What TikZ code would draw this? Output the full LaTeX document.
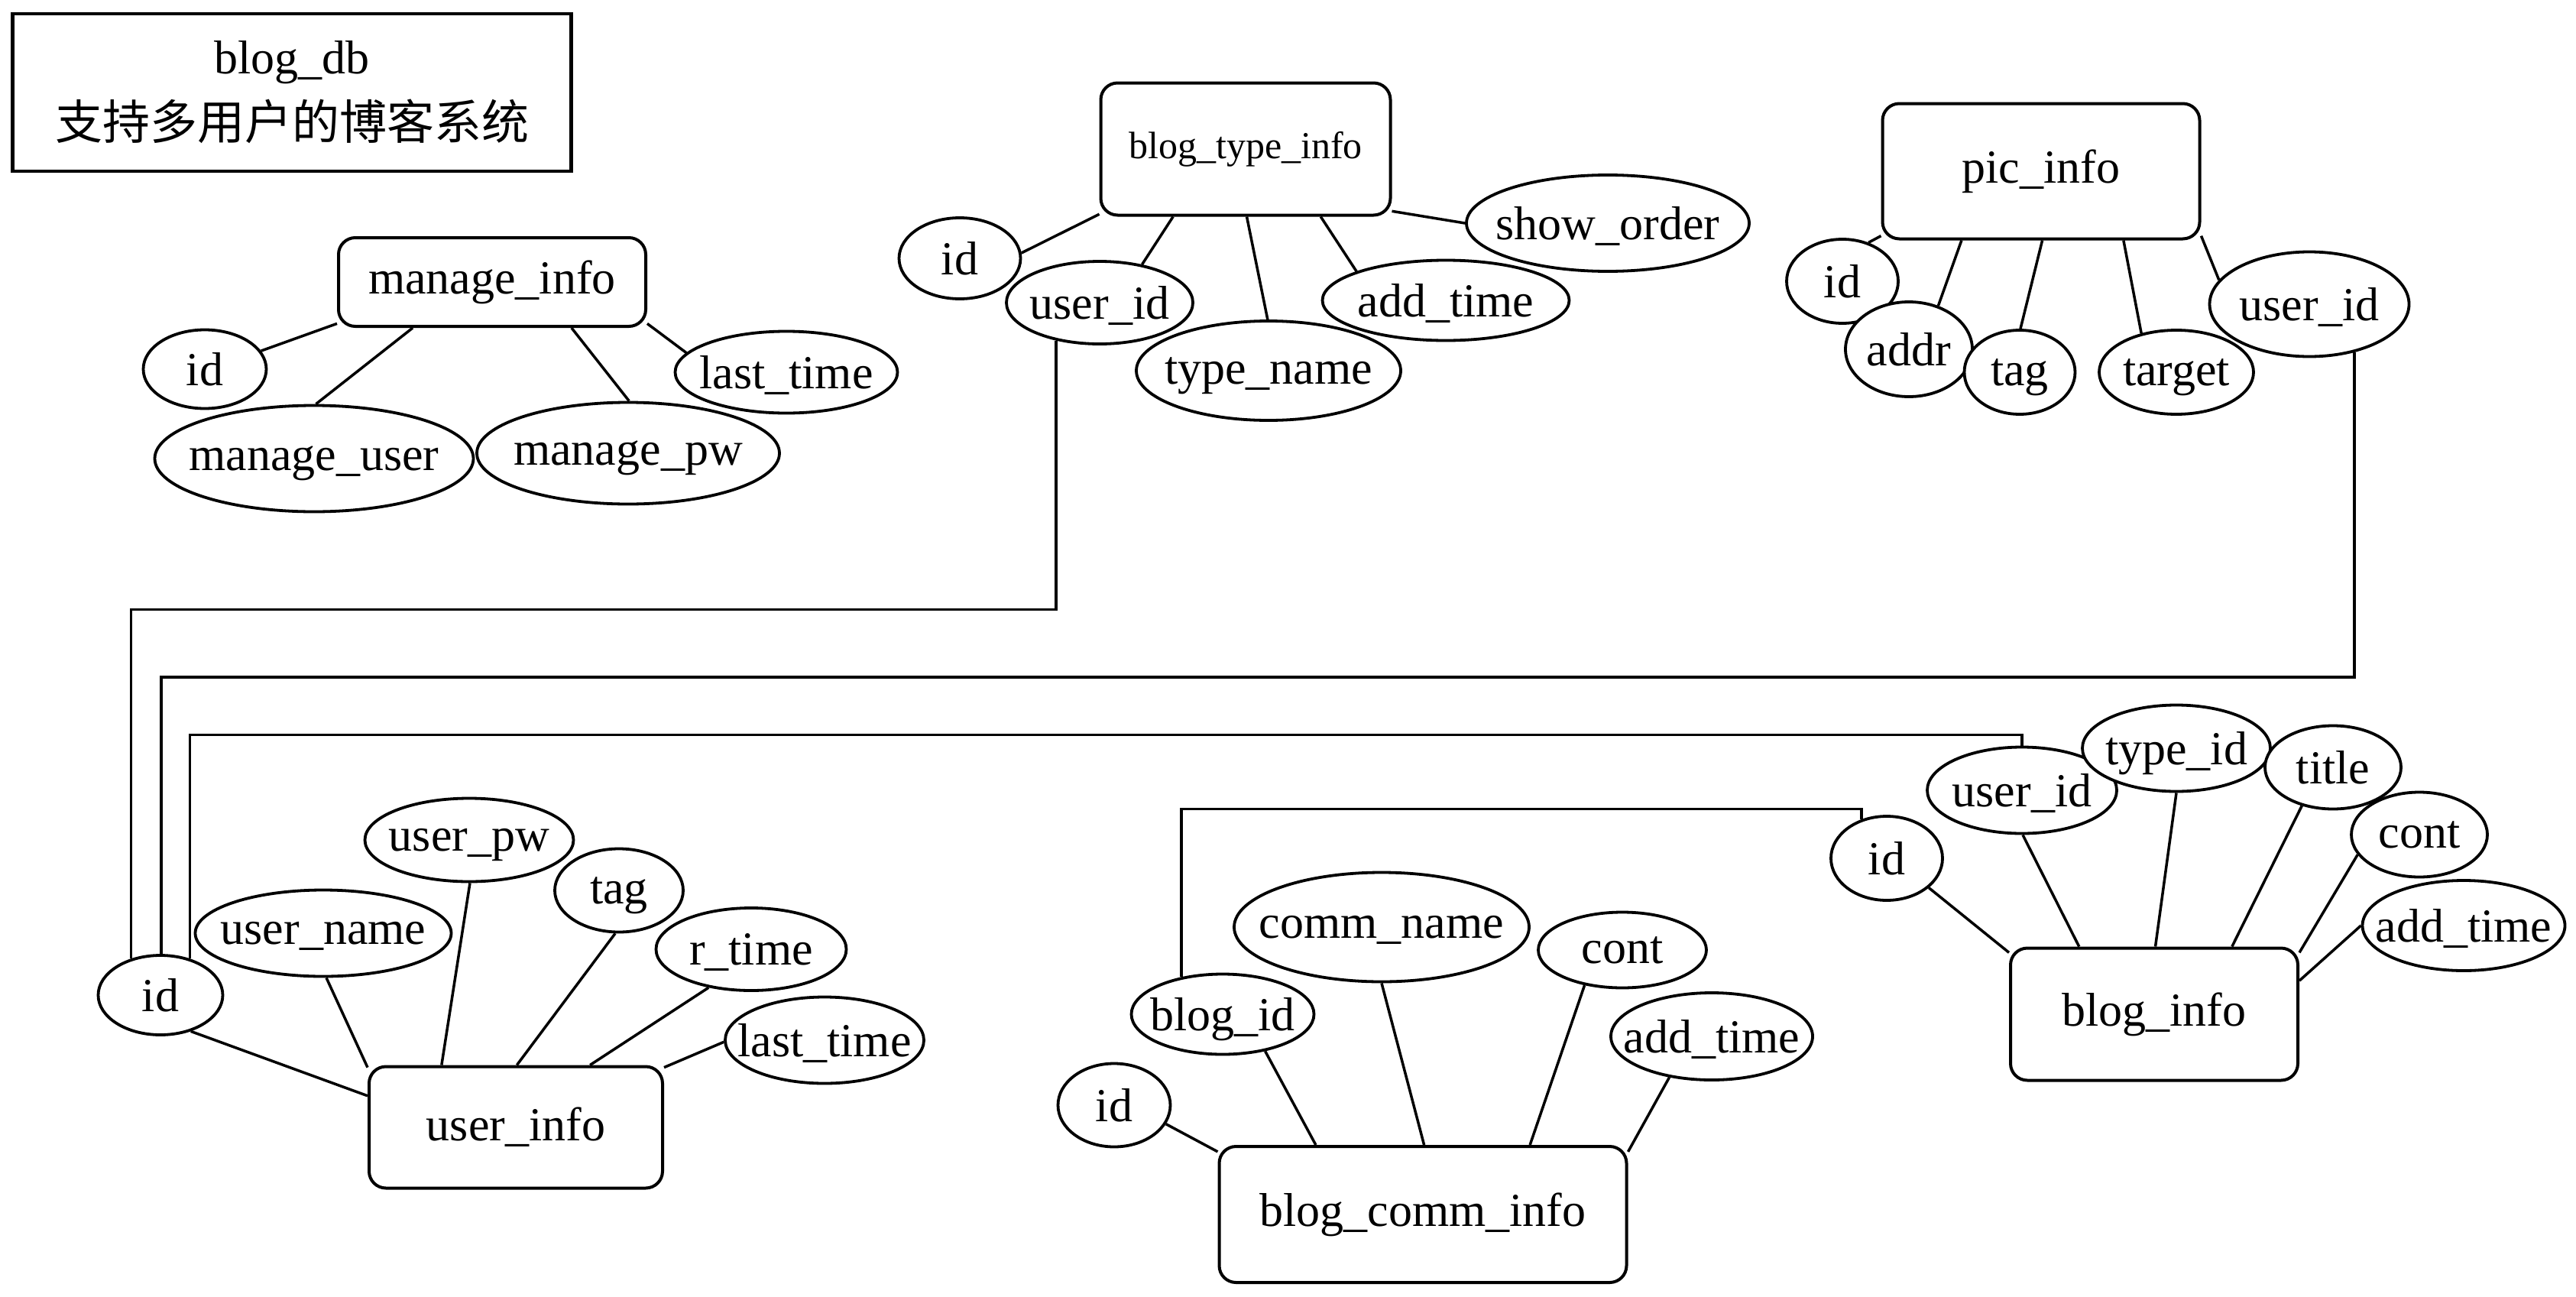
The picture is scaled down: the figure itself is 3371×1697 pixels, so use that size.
\documentclass[tikz,border=0pt]{standalone}
\usepackage{fontspec}
\setmainfont{Liberation Serif}
\newfontfamily\cjkfont{Noto Sans CJK SC}
\usetikzlibrary{shapes.geometric}

\begin{document}
\begin{tikzpicture}[
  x=1pt, y=-1pt,
  every label/.style={font=\fontsize{62}{70}\selectfont, text depth=0pt},
  entity/.style 2 args={rectangle, rounded corners=22pt, draw, line width=4pt,
    minimum width=#1, minimum height=#2, inner sep=0pt, font=\fontsize{62}{70}\selectfont},
  attr/.style 2 args={ellipse, draw, fill=white, line width=3.8pt, inner sep=0pt,
    minimum width=#1, minimum height=#2},
  titlebox/.style={rectangle, draw, line width=4.4pt, inner sep=0pt, align=center,
    font=\fontsize{62}{86}\selectfont},
  link/.style={line width=3.5pt}
]
\path[use as bounding box, fill=white] (0,0) rectangle (3371,1697);

% ---- TITLE ----
\node[titlebox, minimum width=731, minimum height=206] (title) at (382,121)
  {blog\_db\\{\cjkfont 支持多用户的博客系统}};

% ---- manage_info ----
\node[entity={402}{116}] (manage) at (644,369) {manage\_info};
\node[attr={161}{103}, label=center:id] (mi-id) at (268,483) {};
\node[attr={417}{139}, label=center:{manage\_user}] (mi-user) at (411,600) {};
\node[attr={396}{133}, label=center:{manage\_pw}] (mi-pw) at (822,593) {};
\node[attr={291}{107}, label=center:{last\_time}] (mi-last) at (1029,487) {};
\draw[link] (mi-id.18) -- (manage.195);
\draw[link] (mi-user.88) -- (manage.210);
\draw[link] (mi-pw.89) -- (manage.330);
\draw[link] (mi-last.169) -- (manage.345);

% ---- blog_type_info ----
\node[entity={379}{173}, font=\fontsize{50}{60}\selectfont] (btype) at (1630,195) {blog\_type\_info};
\node[attr={159}{106}, label=center:id] (bt-id) at (1256,338) {};
\node[attr={346}{130}, label=center:{type\_name}] (bt-name) at (1660,485) {};
\node[attr={244}{108}, label=center:{user\_id}] (bt-uid) at (1439,396) {};
\node[attr={323}{105}, label=center:{add\_time}] (bt-time) at (1892,393) {};
\node[attr={370}{126}, label=center:{show\_order}] (bt-order) at (2104,292) {};
\draw[link] (bt-id.5) -- (btype.204);
\draw[link] (bt-uid.42) -- (btype.223);
\draw[link] (bt-name.91) -- (btype.271);
\draw[link] (bt-time.162) -- (btype.318);
\draw[link] (bt-order.180) -- (btype.337);

% ---- pic_info ----
\node[entity={415}{177}] (pic) at (2671,224) {pic\_info};
\node[attr={146}{110}, label=center:id] (pc-id) at (2411,368) {};
\node[attr={166}{124}, label=center:addr] (pc-addr) at (2498,457) {};
\node[attr={145}{110}, label=center:tag] (pc-tag) at (2643,487) {};
\node[attr={202}{110}, label=center:target] (pc-target) at (2848,487) {};
\node[attr={261}{137}, label=center:{user\_id}] (pc-uid) at (3022,398) {};
\draw[link] (pc-id.56) -- (pic.202);
\draw[link] (pc-addr.56) -- (pic.221);
\draw[link] (pc-tag.89) -- (pic.271);
\draw[link] (pc-target.132) -- (pic.320);
\draw[link] (pc-uid.165) -- (pic.338);

% ---- user_info ----
\node[entity={384}{159}] (user) at (675,1475) {user\_info};
\node[attr={163}{104}, label=center:id] (us-id) at (210,1302) {};
\node[attr={335}{113}, label=center:{user\_name}] (us-name) at (423,1221) {};
\node[attr={273}{109}, label=center:{user\_pw}] (us-pw) at (614,1099) {};
\node[attr={168}{109}, label=center:tag] (us-tag) at (810,1165) {};
\node[attr={249}{108}, label=center:{r\_time}] (us-rtime) at (983,1242) {};
\node[attr={260}{113}, label=center:{last\_time}] (us-last) at (1079,1361) {};
\draw[link] (us-id.310) -- (user.168);
\draw[link] (us-name.274) -- (user.158);
\draw[link] (us-pw.271) -- (user.140);
\draw[link] (us-tag.265) -- (user.89);
\draw[link] (us-rtime.222) -- (user.40);
\draw[link] (us-last.181) -- (user.22);

% ---- blog_comm_info ----
\node[entity={533}{178}] (comm) at (1862,1589) {blog\_comm\_info};
\node[attr={147}{109}, label=center:id] (cm-id) at (1458,1446) {};
\node[attr={239}{105}, label=center:{blog\_id}] (cm-bid) at (1600,1327) {};
\node[attr={386}{143}, label=center:{comm\_name}] (cm-name) at (1808,1213) {};
\node[attr={220}{99}, label=center:cont] (cm-cont) at (2123,1243) {};
\node[attr={264}{114}, label=center:{add\_time}] (cm-time) at (2240,1356) {};
\draw[link] (cm-id.340) -- (comm.163);
\draw[link] (cm-bid.319) -- (comm.147);
\draw[link] (cm-name.270) -- (comm.89);
\draw[link] (cm-cont.223) -- (comm.33);
\draw[link] (cm-time.224) -- (comm.17);

% ---- blog_info ----
\node[entity={376}{173}] (blog) at (2819,1327) {blog\_info};
\node[attr={146}{110}, label=center:id] (bl-id) at (2469,1123) {};
\node[attr={248}{113}, label=center:{user\_id}] (bl-uid) at (2646,1034) {};
\node[attr={246}{113}, label=center:{type\_id}] (bl-tid) at (2848,979) {};
\node[attr={178}{109}, label=center:title] (bl-title) at (3053,1004) {};
\node[attr={178}{111}, label=center:cont] (bl-cont) at (3166,1092) {};
\node[attr={265}{118}, label=center:{add\_time}] (bl-time) at (3224,1211) {};
\draw[link] (bl-id.325) -- (blog.157);
\draw[link] (bl-uid.271) -- (blog.138);
\draw[link] (bl-tid.270) -- (blog.89);
\draw[link] (bl-title.231) -- (blog.41);
\draw[link] (bl-cont.198) -- (blog.23);
\draw[link] (bl-time.180) -- (blog.13);

% ---- references to user_info.id / blog_info.id ----
\draw[link] (bt-uid.221) -- ++(0,352) -| (us-id.129);
\draw[link] (pc-uid.313) -- ++(0,425) -| (us-id.89);
\draw[link] (bl-uid.north) -- ++(0,-14) -| (us-id.51);
\draw[link] (cm-bid.138) -- ++(0,-220) -| (bl-id.123);
\end{tikzpicture}
\end{document}
